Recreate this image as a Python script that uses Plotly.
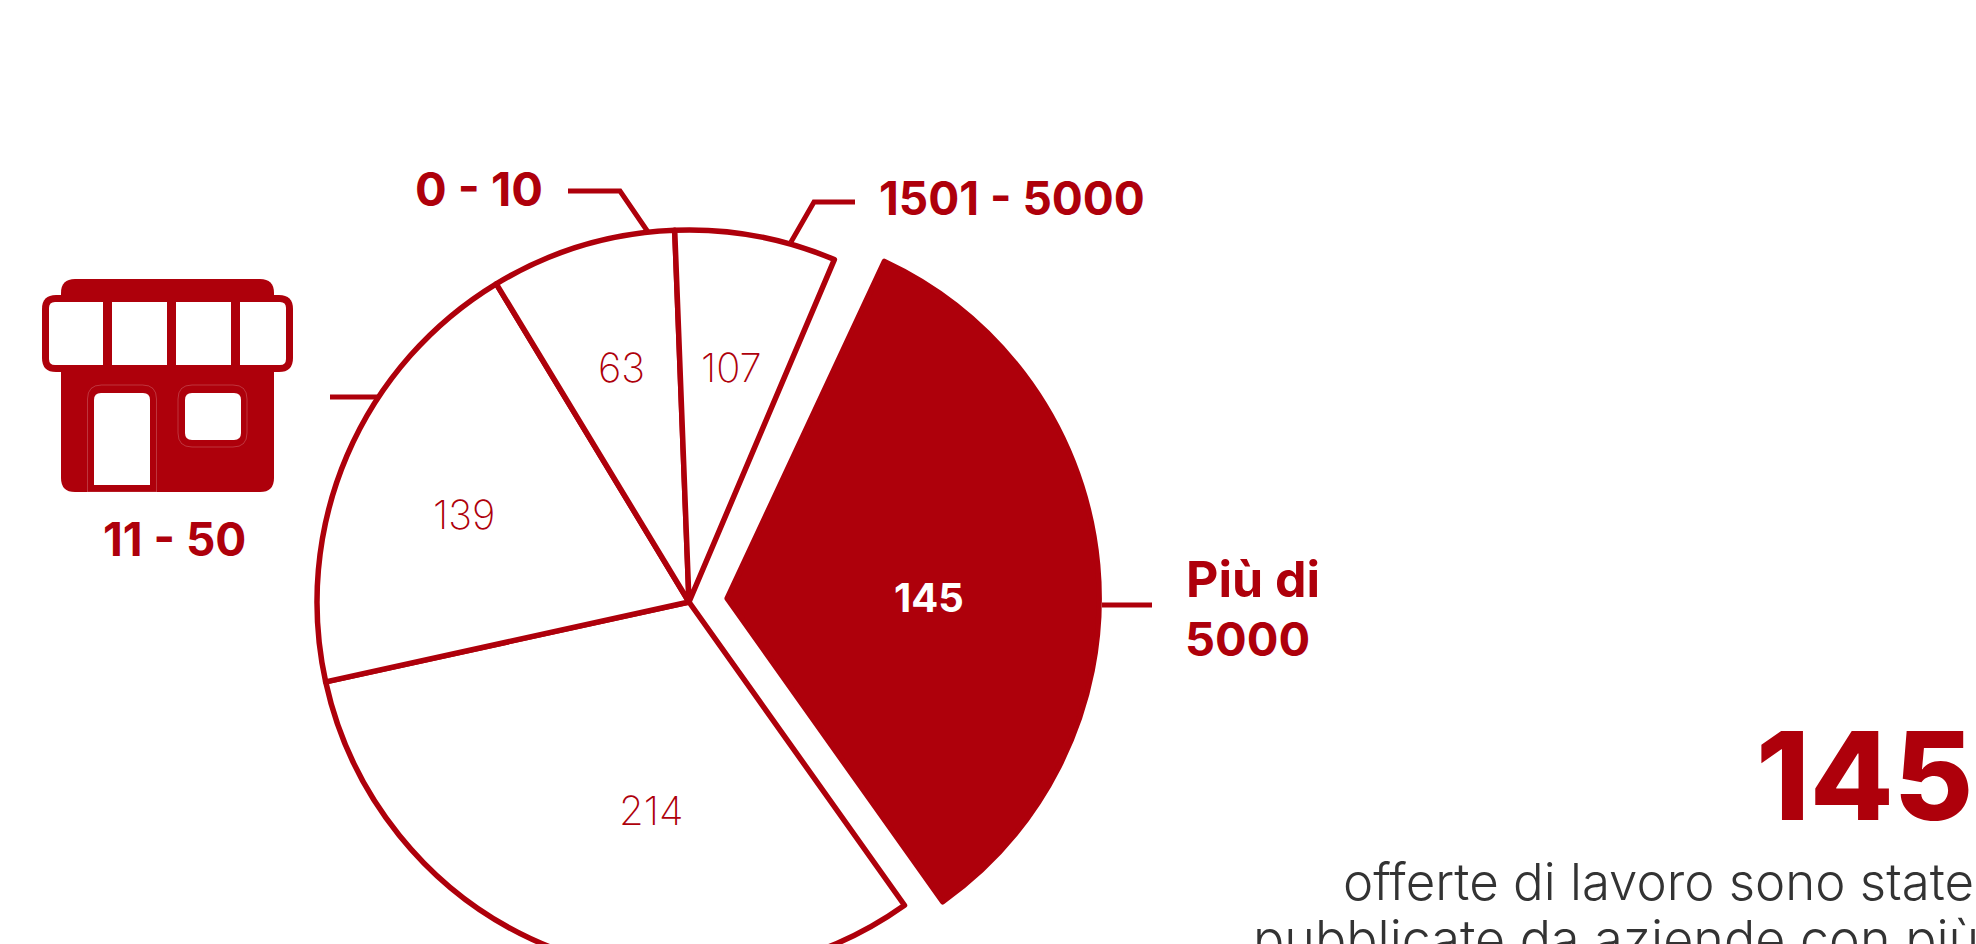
import plotly.graph_objects as go

W, H = 1976, 1200
RED = "#AE000B"
DARK = "#333333"
BOLD = "Inter"

categories = ["Più di 5000", "51 - 1500", "11 - 50", "0 - 10", "1501 - 5000"]
offers = [145, 214, 139, 63, 107]
# the drawn slices are not proportional to the printed counts: shares (degrees)
slice_shares = [119.6, 113.0, 71.2, 29.0, 25.2]
slice_fills = [RED, "white", "white", "white", "white"]
slice_pull = [0.103, 0, 0, 0, 0]
# the reference leaves a little more open space between 1501-5000 and the pulled slice
gap_share = 2.0

cx, cy, r, maxpull = 689, 602, 372, 0.103
half = r * (1 + maxpull)

fig = go.Figure()
fig.add_trace(go.Scatter(x=[0, W], y=[0, H], mode="markers", marker=dict(opacity=0), hoverinfo="skip", showlegend=False))
fig.add_trace(go.Pie(
    labels=categories + [" "], values=slice_shares + [gap_share], customdata=offers + [""], sort=False,
    direction="clockwise", rotation=25, pull=slice_pull + [0], textinfo="none",
    hovertemplate="%{label}: %{customdata}<extra></extra>",
    marker=dict(colors=slice_fills + ["rgba(0,0,0,0)"],
                line=dict(color=[RED] * 5 + ["rgba(0,0,0,0)"], width=[5.5] * 5 + [0])),
    domain=dict(x=[(cx - half) / W, (cx + half) / W], y=[(H - cy - half) / H, (H - cy + half) / H]),
    showlegend=False,
))


def rrect(x0, y0, x1, y1, tl=0, tr=0, br=0, bl=0):
    return (f"M{x0+tl},{y0} L{x1-tr},{y0} Q{x1},{y0} {x1},{y0+tr} L{x1},{y1-br} Q{x1},{y1} {x1-br},{y1} "
            f"L{x0+bl},{y1} Q{x0},{y1} {x0},{y1-bl} L{x0},{y0+tl} Q{x0},{y0} {x0+tl},{y0} Z")


icon = [
    (rrect(61, 279, 274, 492, 14, 14, 14, 14), RED),
    (rrect(42, 295, 293, 372, 14, 14, 14, 14), RED),
    (rrect(49, 302, 103, 365, 6, 0, 0, 6), "white"),
    (rrect(112, 302, 167, 365), "white"),
    (rrect(176, 302, 231, 365), "white"),
    (rrect(240, 302, 286, 365, 0, 6, 6, 0), "white"),
    (rrect(94, 393, 150, 485, 7, 7, 0, 0), "white"),
    (rrect(185, 393, 241, 440, 7, 7, 7, 7), "white"),
]
shapes = [dict(type="path", path=p, fillcolor=c, line=dict(width=0), xref="x", yref="y", layer="above") for p, c in icon]

# hairlines visible round door and window
for p in [rrect(87.5, 385, 156.5, 492, 14, 14, 0, 0), rrect(178, 385, 247, 447, 14, 14, 14, 14)]:
    shapes.append(dict(type="path", path=p, fillcolor="rgba(0,0,0,0)", line=dict(color="rgba(255,255,255,0.3)", width=0.7),
                       xref="x", yref="y", layer="above"))

leaders = [
    [(568, 191), (620, 191), (648, 232)],
    [(855, 202), (814, 202), (791, 242)],
    [(330, 397), (378, 397)],
    [(1102, 605), (1152, 605)],
]
for pts in leaders:
    path = "M" + " L".join(f"{x},{y}" for x, y in pts)
    shapes.append(dict(type="path", path=path, line=dict(color=RED, width=5), xref="x", yref="y", layer="above"))


def label(x, y, text, size, color=RED, weight=700, anchor="center", family=BOLD):
    return dict(x=x, y=y, text=text, showarrow=False, xanchor=anchor, yanchor="middle", xref="x", yref="y",
                font=dict(family=family, size=size, color=color, weight=weight))


value_pos = [(929, 597), (651, 810), (464, 514), (621, 367), (731, 367)]
annotations = []
for i, (v, (x, y)) in enumerate(zip(offers, value_pos)):
    annotations.append(label(x, y, str(v), 40, "white" if i == 0 else RED, 700 if i == 0 else 200))

annotations += [
    label(479, 188, "0 - 10", 47),
    label(1012, 198, "1501 - 5000", 46),
    label(174, 539, "11 - 50", 46),
    label(1184, 579, "Più di", 50, anchor="left"),
    label(1183, 638, "5000", 47, anchor="left"),
    label(1975, 775, str(offers[0]), 122, weight=800, anchor="right"),
    label(1976, 881, "offerte di lavoro sono state", 51, DARK, 300, anchor="right"),
    label(1251, 939, "pubblicate da aziende con più", 52, DARK, 300, anchor="left"),
]

fig.update_layout(
    width=W, height=H, autosize=False, margin=dict(l=0, r=0, t=0, b=0),
    paper_bgcolor="white", plot_bgcolor="white", showlegend=False,
    xaxis=dict(range=[0, W], visible=False, fixedrange=True),
    yaxis=dict(range=[H, 0], visible=False, fixedrange=True),
    shapes=shapes, annotations=annotations,
)

fig.write_html("out.html", config={"displayModeBar": False},
               post_script="document.body.style.margin='0';document.documentElement.style.overflow='hidden';document.body.style.overflow='hidden';")
